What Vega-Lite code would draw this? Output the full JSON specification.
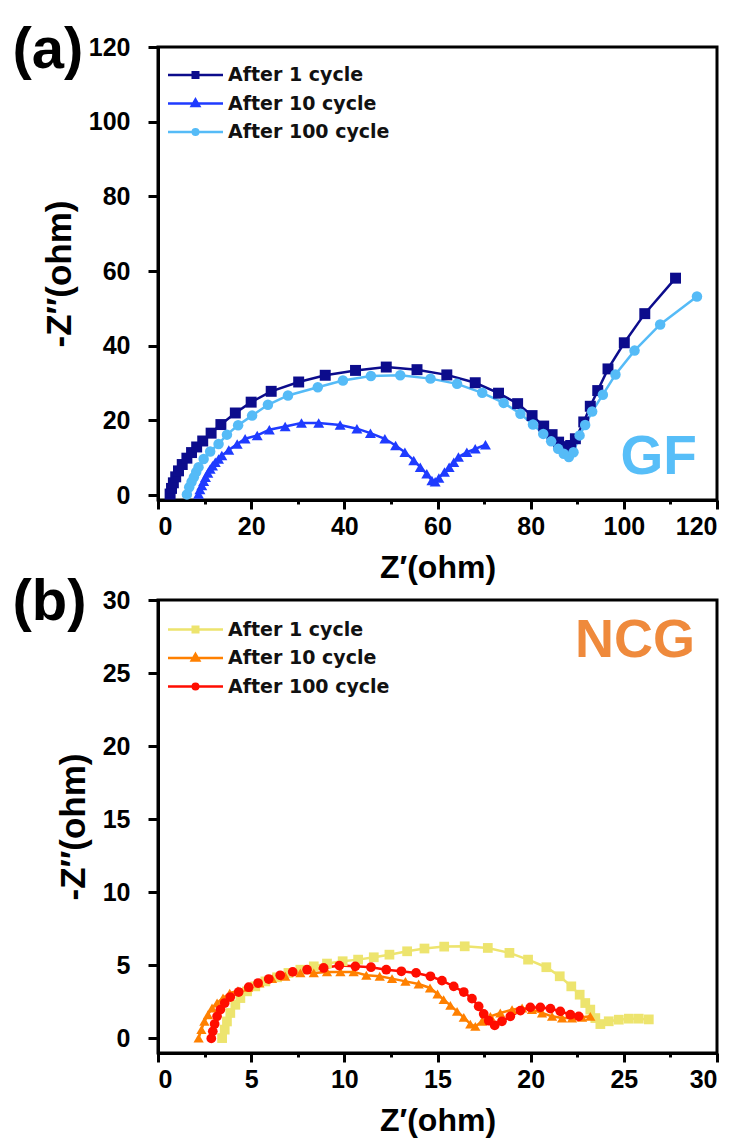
{
  "$schema": "https://vega.github.io/schema/vega-lite/v6.json",
  "background": "white",
  "padding": {"left": 10, "top": 20, "right": 0, "bottom": 0},
  "spacing": -13,
  "datasets": {
    "gf": [
      {"s": "After 1 cycle", "n": 1, "x": 2.6, "y": 0.3},
      {"s": "After 1 cycle", "n": 2, "x": 2.9, "y": 1.8},
      {"s": "After 1 cycle", "n": 3, "x": 3.3, "y": 3.3},
      {"s": "After 1 cycle", "n": 4, "x": 3.8, "y": 4.9},
      {"s": "After 1 cycle", "n": 5, "x": 4.4, "y": 6.5},
      {"s": "After 1 cycle", "n": 6, "x": 5.2, "y": 8.2},
      {"s": "After 1 cycle", "n": 7, "x": 6.2, "y": 9.9},
      {"s": "After 1 cycle", "n": 8, "x": 7.2, "y": 11.4},
      {"s": "After 1 cycle", "n": 9, "x": 8.3, "y": 12.9},
      {"s": "After 1 cycle", "n": 10, "x": 9.6, "y": 14.5},
      {"s": "After 1 cycle", "n": 11, "x": 11.4, "y": 16.6},
      {"s": "After 1 cycle", "n": 12, "x": 13.5, "y": 18.9},
      {"s": "After 1 cycle", "n": 13, "x": 16.6, "y": 22.0},
      {"s": "After 1 cycle", "n": 14, "x": 20.0, "y": 24.9},
      {"s": "After 1 cycle", "n": 15, "x": 24.3, "y": 27.8},
      {"s": "After 1 cycle", "n": 16, "x": 30.2, "y": 30.3},
      {"s": "After 1 cycle", "n": 17, "x": 35.9, "y": 32.1},
      {"s": "After 1 cycle", "n": 18, "x": 42.4, "y": 33.4},
      {"s": "After 1 cycle", "n": 19, "x": 49.0, "y": 34.3},
      {"s": "After 1 cycle", "n": 20, "x": 55.6, "y": 33.6},
      {"s": "After 1 cycle", "n": 21, "x": 62.0, "y": 32.2},
      {"s": "After 1 cycle", "n": 22, "x": 68.1, "y": 30.1},
      {"s": "After 1 cycle", "n": 23, "x": 73.1, "y": 27.3},
      {"s": "After 1 cycle", "n": 24, "x": 77.2, "y": 24.5},
      {"s": "After 1 cycle", "n": 25, "x": 80.3, "y": 21.3},
      {"s": "After 1 cycle", "n": 26, "x": 82.8, "y": 18.5},
      {"s": "After 1 cycle", "n": 27, "x": 84.6, "y": 16.2},
      {"s": "After 1 cycle", "n": 28, "x": 86.0, "y": 14.2},
      {"s": "After 1 cycle", "n": 29, "x": 87.0, "y": 13.0},
      {"s": "After 1 cycle", "n": 30, "x": 87.8, "y": 12.0},
      {"s": "After 1 cycle", "n": 31, "x": 88.6, "y": 13.3},
      {"s": "After 1 cycle", "n": 32, "x": 89.6, "y": 15.1},
      {"s": "After 1 cycle", "n": 33, "x": 91.4, "y": 19.6},
      {"s": "After 1 cycle", "n": 34, "x": 92.8, "y": 23.8},
      {"s": "After 1 cycle", "n": 35, "x": 94.4, "y": 28.0},
      {"s": "After 1 cycle", "n": 36, "x": 96.6, "y": 33.8},
      {"s": "After 1 cycle", "n": 37, "x": 100.1, "y": 40.8},
      {"s": "After 1 cycle", "n": 38, "x": 104.5, "y": 48.6},
      {"s": "After 1 cycle", "n": 39, "x": 111.1, "y": 58.1},
      {"s": "After 10 cycle", "n": 1, "x": 8.7, "y": 0.3},
      {"s": "After 10 cycle", "n": 2, "x": 9.0, "y": 1.5},
      {"s": "After 10 cycle", "n": 3, "x": 9.4, "y": 2.6},
      {"s": "After 10 cycle", "n": 4, "x": 9.8, "y": 3.7},
      {"s": "After 10 cycle", "n": 5, "x": 10.2, "y": 4.8},
      {"s": "After 10 cycle", "n": 6, "x": 10.7, "y": 5.9},
      {"s": "After 10 cycle", "n": 7, "x": 11.2, "y": 7.0},
      {"s": "After 10 cycle", "n": 8, "x": 11.7, "y": 7.9},
      {"s": "After 10 cycle", "n": 9, "x": 12.3, "y": 8.8},
      {"s": "After 10 cycle", "n": 10, "x": 13.0, "y": 9.7},
      {"s": "After 10 cycle", "n": 11, "x": 13.7, "y": 10.6},
      {"s": "After 10 cycle", "n": 12, "x": 15.2, "y": 12.1},
      {"s": "After 10 cycle", "n": 13, "x": 17.0, "y": 13.7},
      {"s": "After 10 cycle", "n": 14, "x": 18.7, "y": 15.1},
      {"s": "After 10 cycle", "n": 15, "x": 21.3, "y": 16.0},
      {"s": "After 10 cycle", "n": 16, "x": 23.9, "y": 17.5},
      {"s": "After 10 cycle", "n": 17, "x": 27.3, "y": 18.4},
      {"s": "After 10 cycle", "n": 18, "x": 30.8, "y": 19.3},
      {"s": "After 10 cycle", "n": 19, "x": 34.5, "y": 19.3},
      {"s": "After 10 cycle", "n": 20, "x": 39.1, "y": 18.8},
      {"s": "After 10 cycle", "n": 21, "x": 42.7, "y": 17.8},
      {"s": "After 10 cycle", "n": 22, "x": 45.6, "y": 16.6},
      {"s": "After 10 cycle", "n": 23, "x": 48.7, "y": 15.1},
      {"s": "After 10 cycle", "n": 24, "x": 51.0, "y": 13.3},
      {"s": "After 10 cycle", "n": 25, "x": 53.0, "y": 11.5},
      {"s": "After 10 cycle", "n": 26, "x": 54.9, "y": 9.3},
      {"s": "After 10 cycle", "n": 27, "x": 56.3, "y": 7.5},
      {"s": "After 10 cycle", "n": 28, "x": 57.7, "y": 5.7},
      {"s": "After 10 cycle", "n": 29, "x": 58.8, "y": 3.9},
      {"s": "After 10 cycle", "n": 30, "x": 59.5, "y": 3.6},
      {"s": "After 10 cycle", "n": 31, "x": 60.3, "y": 4.6},
      {"s": "After 10 cycle", "n": 32, "x": 61.5, "y": 6.2},
      {"s": "After 10 cycle", "n": 33, "x": 62.5, "y": 7.5},
      {"s": "After 10 cycle", "n": 34, "x": 63.5, "y": 8.8},
      {"s": "After 10 cycle", "n": 35, "x": 64.5, "y": 10.2},
      {"s": "After 10 cycle", "n": 36, "x": 66.3, "y": 11.5},
      {"s": "After 10 cycle", "n": 37, "x": 68.1, "y": 12.4},
      {"s": "After 10 cycle", "n": 38, "x": 70.3, "y": 13.5},
      {"s": "After 100 cycle", "n": 1, "x": 6.2, "y": 0.2},
      {"s": "After 100 cycle", "n": 2, "x": 6.7, "y": 2.1},
      {"s": "After 100 cycle", "n": 3, "x": 7.2, "y": 3.5},
      {"s": "After 100 cycle", "n": 4, "x": 7.7, "y": 4.8},
      {"s": "After 100 cycle", "n": 5, "x": 8.2, "y": 6.2},
      {"s": "After 100 cycle", "n": 6, "x": 8.7, "y": 7.5},
      {"s": "After 100 cycle", "n": 7, "x": 9.8, "y": 9.7},
      {"s": "After 100 cycle", "n": 8, "x": 11.2, "y": 11.7},
      {"s": "After 100 cycle", "n": 9, "x": 13.0, "y": 13.7},
      {"s": "After 100 cycle", "n": 10, "x": 14.8, "y": 16.2},
      {"s": "After 100 cycle", "n": 11, "x": 17.2, "y": 18.7},
      {"s": "After 100 cycle", "n": 12, "x": 20.2, "y": 21.3},
      {"s": "After 100 cycle", "n": 13, "x": 23.6, "y": 24.2},
      {"s": "After 100 cycle", "n": 14, "x": 27.9, "y": 26.7},
      {"s": "After 100 cycle", "n": 15, "x": 34.3, "y": 28.9},
      {"s": "After 100 cycle", "n": 16, "x": 39.7, "y": 30.7},
      {"s": "After 100 cycle", "n": 17, "x": 45.7, "y": 31.9},
      {"s": "After 100 cycle", "n": 18, "x": 52.0, "y": 32.1},
      {"s": "After 100 cycle", "n": 19, "x": 58.5, "y": 31.2},
      {"s": "After 100 cycle", "n": 20, "x": 64.2, "y": 29.8},
      {"s": "After 100 cycle", "n": 21, "x": 69.6, "y": 27.4},
      {"s": "After 100 cycle", "n": 22, "x": 74.2, "y": 24.7},
      {"s": "After 100 cycle", "n": 23, "x": 77.8, "y": 21.8},
      {"s": "After 100 cycle", "n": 24, "x": 80.5, "y": 18.9},
      {"s": "After 100 cycle", "n": 25, "x": 82.7, "y": 16.4},
      {"s": "After 100 cycle", "n": 26, "x": 84.4, "y": 14.4},
      {"s": "After 100 cycle", "n": 27, "x": 85.9, "y": 12.4},
      {"s": "After 100 cycle", "n": 28, "x": 87.1, "y": 11.1},
      {"s": "After 100 cycle", "n": 29, "x": 88.2, "y": 10.2},
      {"s": "After 100 cycle", "n": 30, "x": 89.2, "y": 11.5},
      {"s": "After 100 cycle", "n": 31, "x": 90.5, "y": 16.0},
      {"s": "After 100 cycle", "n": 32, "x": 91.7, "y": 18.8},
      {"s": "After 100 cycle", "n": 33, "x": 93.2, "y": 22.4},
      {"s": "After 100 cycle", "n": 34, "x": 95.5, "y": 26.9},
      {"s": "After 100 cycle", "n": 35, "x": 98.2, "y": 32.3},
      {"s": "After 100 cycle", "n": 36, "x": 102.3, "y": 38.7},
      {"s": "After 100 cycle", "n": 37, "x": 107.8, "y": 45.7},
      {"s": "After 100 cycle", "n": 38, "x": 115.7, "y": 53.2}
    ],
    "ncg": [
      {"s": "After 1 cycle", "n": 1, "x": 3.44, "y": 0.02},
      {"s": "After 1 cycle", "n": 2, "x": 3.58, "y": 0.6},
      {"s": "After 1 cycle", "n": 3, "x": 3.70, "y": 1.16},
      {"s": "After 1 cycle", "n": 4, "x": 3.88, "y": 1.74},
      {"s": "After 1 cycle", "n": 5, "x": 4.15, "y": 2.3},
      {"s": "After 1 cycle", "n": 6, "x": 4.42, "y": 2.76},
      {"s": "After 1 cycle", "n": 7, "x": 4.78, "y": 3.22},
      {"s": "After 1 cycle", "n": 8, "x": 5.22, "y": 3.56},
      {"s": "After 1 cycle", "n": 9, "x": 5.76, "y": 3.9},
      {"s": "After 1 cycle", "n": 10, "x": 6.39, "y": 4.18},
      {"s": "After 1 cycle", "n": 11, "x": 7.0, "y": 4.48},
      {"s": "After 1 cycle", "n": 12, "x": 7.64, "y": 4.7},
      {"s": "After 1 cycle", "n": 13, "x": 8.36, "y": 4.93},
      {"s": "After 1 cycle", "n": 14, "x": 9.07, "y": 5.12},
      {"s": "After 1 cycle", "n": 15, "x": 9.91, "y": 5.28},
      {"s": "After 1 cycle", "n": 16, "x": 10.74, "y": 5.39},
      {"s": "After 1 cycle", "n": 17, "x": 11.58, "y": 5.55},
      {"s": "After 1 cycle", "n": 18, "x": 12.42, "y": 5.73},
      {"s": "After 1 cycle", "n": 19, "x": 13.37, "y": 5.96},
      {"s": "After 1 cycle", "n": 20, "x": 14.3, "y": 6.15},
      {"s": "After 1 cycle", "n": 21, "x": 15.36, "y": 6.28},
      {"s": "After 1 cycle", "n": 22, "x": 16.46, "y": 6.3},
      {"s": "After 1 cycle", "n": 23, "x": 17.7, "y": 6.19},
      {"s": "After 1 cycle", "n": 24, "x": 18.86, "y": 5.85},
      {"s": "After 1 cycle", "n": 25, "x": 19.86, "y": 5.39},
      {"s": "After 1 cycle", "n": 26, "x": 20.84, "y": 4.87},
      {"s": "After 1 cycle", "n": 27, "x": 21.56, "y": 4.25},
      {"s": "After 1 cycle", "n": 28, "x": 22.18, "y": 3.56},
      {"s": "After 1 cycle", "n": 29, "x": 22.63, "y": 2.99},
      {"s": "After 1 cycle", "n": 30, "x": 22.93, "y": 2.42},
      {"s": "After 1 cycle", "n": 31, "x": 23.2, "y": 1.97},
      {"s": "After 1 cycle", "n": 32, "x": 23.47, "y": 1.39},
      {"s": "After 1 cycle", "n": 33, "x": 23.74, "y": 0.98},
      {"s": "After 1 cycle", "n": 34, "x": 24.19, "y": 1.17},
      {"s": "After 1 cycle", "n": 35, "x": 24.73, "y": 1.28},
      {"s": "After 1 cycle", "n": 36, "x": 25.27, "y": 1.35},
      {"s": "After 1 cycle", "n": 37, "x": 25.8, "y": 1.35},
      {"s": "After 1 cycle", "n": 38, "x": 26.34, "y": 1.3},
      {"s": "After 10 cycle", "n": 1, "x": 2.18, "y": 0.02},
      {"s": "After 10 cycle", "n": 2, "x": 2.33, "y": 0.6},
      {"s": "After 10 cycle", "n": 3, "x": 2.49, "y": 1.17},
      {"s": "After 10 cycle", "n": 4, "x": 2.68, "y": 1.62},
      {"s": "After 10 cycle", "n": 5, "x": 2.9, "y": 2.08},
      {"s": "After 10 cycle", "n": 6, "x": 3.17, "y": 2.42},
      {"s": "After 10 cycle", "n": 7, "x": 3.49, "y": 2.76},
      {"s": "After 10 cycle", "n": 8, "x": 3.85, "y": 3.1},
      {"s": "After 10 cycle", "n": 9, "x": 4.29, "y": 3.27},
      {"s": "After 10 cycle", "n": 10, "x": 4.83, "y": 3.5},
      {"s": "After 10 cycle", "n": 11, "x": 5.44, "y": 3.79},
      {"s": "After 10 cycle", "n": 12, "x": 6.12, "y": 4.09},
      {"s": "After 10 cycle", "n": 13, "x": 6.83, "y": 4.25},
      {"s": "After 10 cycle", "n": 14, "x": 7.64, "y": 4.48},
      {"s": "After 10 cycle", "n": 15, "x": 8.36, "y": 4.48},
      {"s": "After 10 cycle", "n": 16, "x": 9.07, "y": 4.55},
      {"s": "After 10 cycle", "n": 17, "x": 9.79, "y": 4.55},
      {"s": "After 10 cycle", "n": 18, "x": 10.5, "y": 4.55},
      {"s": "After 10 cycle", "n": 19, "x": 11.18, "y": 4.32},
      {"s": "After 10 cycle", "n": 20, "x": 11.9, "y": 4.25},
      {"s": "After 10 cycle", "n": 21, "x": 12.56, "y": 4.09},
      {"s": "After 10 cycle", "n": 22, "x": 13.28, "y": 3.9},
      {"s": "After 10 cycle", "n": 23, "x": 13.99, "y": 3.72},
      {"s": "After 10 cycle", "n": 24, "x": 14.6, "y": 3.45},
      {"s": "After 10 cycle", "n": 25, "x": 15.0, "y": 3.04},
      {"s": "After 10 cycle", "n": 26, "x": 15.33, "y": 2.65},
      {"s": "After 10 cycle", "n": 27, "x": 15.69, "y": 2.26},
      {"s": "After 10 cycle", "n": 28, "x": 16.05, "y": 1.85},
      {"s": "After 10 cycle", "n": 29, "x": 16.41, "y": 1.44},
      {"s": "After 10 cycle", "n": 30, "x": 16.76, "y": 0.98},
      {"s": "After 10 cycle", "n": 31, "x": 17.03, "y": 0.82},
      {"s": "After 10 cycle", "n": 32, "x": 17.39, "y": 1.17},
      {"s": "After 10 cycle", "n": 33, "x": 17.84, "y": 1.51},
      {"s": "After 10 cycle", "n": 34, "x": 18.37, "y": 1.74},
      {"s": "After 10 cycle", "n": 35, "x": 19.0, "y": 1.97},
      {"s": "After 10 cycle", "n": 36, "x": 19.54, "y": 2.08},
      {"s": "After 10 cycle", "n": 37, "x": 20.07, "y": 1.97},
      {"s": "After 10 cycle", "n": 38, "x": 20.61, "y": 1.74},
      {"s": "After 10 cycle", "n": 39, "x": 21.15, "y": 1.51},
      {"s": "After 10 cycle", "n": 40, "x": 21.69, "y": 1.39},
      {"s": "After 10 cycle", "n": 41, "x": 22.22, "y": 1.39},
      {"s": "After 10 cycle", "n": 42, "x": 22.76, "y": 1.44},
      {"s": "After 10 cycle", "n": 43, "x": 23.2, "y": 1.51},
      {"s": "After 100 cycle", "n": 1, "x": 2.86, "y": 0.0},
      {"s": "After 100 cycle", "n": 2, "x": 2.94, "y": 0.48},
      {"s": "After 100 cycle", "n": 3, "x": 3.04, "y": 0.98},
      {"s": "After 100 cycle", "n": 4, "x": 3.17, "y": 1.51},
      {"s": "After 100 cycle", "n": 5, "x": 3.35, "y": 1.97},
      {"s": "After 100 cycle", "n": 6, "x": 3.58, "y": 2.42},
      {"s": "After 100 cycle", "n": 7, "x": 3.88, "y": 2.83},
      {"s": "After 100 cycle", "n": 8, "x": 4.33, "y": 3.17},
      {"s": "After 100 cycle", "n": 9, "x": 4.87, "y": 3.5},
      {"s": "After 100 cycle", "n": 10, "x": 5.37, "y": 3.79},
      {"s": "After 100 cycle", "n": 11, "x": 5.94, "y": 4.06},
      {"s": "After 100 cycle", "n": 12, "x": 6.56, "y": 4.32},
      {"s": "After 100 cycle", "n": 13, "x": 7.23, "y": 4.55},
      {"s": "After 100 cycle", "n": 14, "x": 8.0, "y": 4.7},
      {"s": "After 100 cycle", "n": 15, "x": 8.89, "y": 4.82},
      {"s": "After 100 cycle", "n": 16, "x": 9.73, "y": 4.98},
      {"s": "After 100 cycle", "n": 17, "x": 10.59, "y": 4.93},
      {"s": "After 100 cycle", "n": 18, "x": 11.43, "y": 4.87},
      {"s": "After 100 cycle", "n": 19, "x": 12.25, "y": 4.7},
      {"s": "After 100 cycle", "n": 20, "x": 13.06, "y": 4.59},
      {"s": "After 100 cycle", "n": 21, "x": 13.85, "y": 4.48},
      {"s": "After 100 cycle", "n": 22, "x": 14.62, "y": 4.25},
      {"s": "After 100 cycle", "n": 23, "x": 15.24, "y": 3.95},
      {"s": "After 100 cycle", "n": 24, "x": 15.87, "y": 3.56},
      {"s": "After 100 cycle", "n": 25, "x": 16.41, "y": 3.17},
      {"s": "After 100 cycle", "n": 26, "x": 16.85, "y": 2.72},
      {"s": "After 100 cycle", "n": 27, "x": 17.21, "y": 2.19},
      {"s": "After 100 cycle", "n": 28, "x": 17.48, "y": 1.67},
      {"s": "After 100 cycle", "n": 29, "x": 17.75, "y": 1.21},
      {"s": "After 100 cycle", "n": 30, "x": 18.07, "y": 0.89},
      {"s": "After 100 cycle", "n": 31, "x": 18.46, "y": 1.17},
      {"s": "After 100 cycle", "n": 32, "x": 18.91, "y": 1.51},
      {"s": "After 100 cycle", "n": 33, "x": 19.45, "y": 1.9},
      {"s": "After 100 cycle", "n": 34, "x": 19.98, "y": 2.12},
      {"s": "After 100 cycle", "n": 35, "x": 20.52, "y": 2.12},
      {"s": "After 100 cycle", "n": 36, "x": 21.06, "y": 2.04},
      {"s": "After 100 cycle", "n": 37, "x": 21.59, "y": 1.85},
      {"s": "After 100 cycle", "n": 38, "x": 22.13, "y": 1.62},
      {"s": "After 100 cycle", "n": 39, "x": 22.58, "y": 1.51}
    ]
  },
  "vconcat": [
    {
      "width": 559,
      "height": 453,
      "data": {"name": "gf"},
      "layer": [
        {
          "mark": {"type": "line", "strokeWidth": 2.5},
          "encoding": {
            "x": {"field": "x", "type": "quantitative", "scale": {"domain": [0, 120], "nice": false, "zero": false},
              "axis": {"title": "Z′(ohm)", "titlePadding": 13, "values": [0, 10, 20, 30, 40, 50, 60, 70, 80, 90, 100, 110, 120],
                "labelExpr": "datum.value % 20 === 0 ? '' + datum.value : ''",
                "tickSize": {"condition": {"test": "datum.value % 20 === 0", "value": 9}, "value": 4}}},
            "y": {"field": "y", "type": "quantitative", "scale": {"domain": [-1.3, 120], "nice": false, "zero": false},
              "axis": {"title": "-Z′′(ohm)", "titleFontSize": 35, "titlePadding": 11, "labelPadding": 18, "values": [0, 10, 20, 30, 40, 50, 60, 70, 80, 90, 100, 110, 120],
                "labelExpr": "datum.value % 20 === 0 ? '' + datum.value : ''",
                "tickSize": {"condition": {"test": "datum.value % 20 === 0", "value": 10}, "value": 4}}},
            "color": {"field": "s", "type": "nominal",
              "scale": {"domain": ["After 1 cycle", "After 10 cycle", "After 100 cycle"], "range": ["#0c0c8c", "#1f3bff", "#55bbf7"]}},
            "order": {"field": "n", "type": "quantitative"}
          }
        },
        {
          "transform": [{"filter": "datum.s === 'After 1 cycle'"}],
          "mark": {"type": "point", "filled": true, "shape": "square", "size": 120, "opacity": 1},
          "encoding": {"x": {"field": "x", "type": "quantitative"}, "y": {"field": "y", "type": "quantitative"}, "color": {"field": "s", "type": "nominal"}}
        },
        {
          "transform": [{"filter": "datum.s === 'After 10 cycle'"}],
          "mark": {"type": "point", "filled": true, "shape": "triangle-up", "size": 120, "opacity": 1},
          "encoding": {"x": {"field": "x", "type": "quantitative"}, "y": {"field": "y", "type": "quantitative"}, "color": {"field": "s", "type": "nominal"}}
        },
        {
          "transform": [{"filter": "datum.s === 'After 100 cycle'"}],
          "mark": {"type": "point", "filled": true, "shape": "circle", "size": 110, "opacity": 1},
          "encoding": {"x": {"field": "x", "type": "quantitative"}, "y": {"field": "y", "type": "quantitative"}, "color": {"field": "s", "type": "nominal"}}
        },
        {
          "mark": {"type": "point", "filled": true, "opacity": 0, "strokeWidth": 2.5},
          "encoding": {
            "x": {"field": "x", "type": "quantitative"},
            "y": {"field": "y", "type": "quantitative"},
            "color": {"field": "s", "type": "nominal",
              "legend": {"title": null, "orient": "none", "legendX": 28, "legendY": 18.5, "padding": 0, "rowPadding": 8.5, "labelOffset": 23, "labelLimit": 400,
                "symbolSize": 100, "symbolStrokeWidth": 2.5, "symbolOpacity": 1,
                "labelFont": "DejaVu Sans", "labelFontSize": 19, "labelFontWeight": "bold", "labelColor": "#111111"}},
            "stroke": {"field": "s", "type": "nominal",
              "scale": {"domain": ["After 1 cycle", "After 10 cycle", "After 100 cycle"], "range": ["#0c0c8c", "#1f3bff", "#55bbf7"]},
              "legend": {"title": null, "orient": "none", "legendX": 28, "legendY": 18.5, "padding": 0, "rowPadding": 8.5, "labelOffset": 23, "labelLimit": 400,
                "symbolSize": 100, "symbolStrokeWidth": 2.5, "symbolOpacity": 1,
                "labelFont": "DejaVu Sans", "labelFontSize": 19, "labelFontWeight": "bold", "labelColor": "#111111"}},
            "shape": {"field": "s", "type": "nominal",
              "scale": {"domain": ["After 1 cycle", "After 10 cycle", "After 100 cycle"],
                "range": ["M-5.5,0H5.5M-0.55,-0.55H0.55V0.55H-0.55Z", "M-5.5,0H5.5M0,-0.8L0.75,0.5H-0.75Z", "M-5.5,0H5.5M0.55,0A0.55,0.55,0,1,1,-0.55,0A0.55,0.55,0,1,1,0.55,0Z"]},
              "legend": {"title": null, "orient": "none", "legendX": 28, "legendY": 18.5, "padding": 0, "rowPadding": 8.5, "labelOffset": 23, "labelLimit": 400,
                "symbolSize": 100, "symbolStrokeWidth": 2.5, "symbolOpacity": 1,
                "labelFont": "DejaVu Sans", "labelFontSize": 19, "labelFontWeight": "bold", "labelColor": "#111111"}}
          }
        },
        {
          "data": {"values": [{}]},
          "mark": {"type": "text", "text": "GF", "align": "right", "baseline": "alphabetic", "font": "Liberation Sans", "fontSize": 55, "fontWeight": "bold", "color": "#57bef8"},
          "encoding": {"x": {"datum": 115.7}, "y": {"datum": 5.66}}
        },
        {
          "data": {"values": [{}]},
          "mark": {"type": "text", "text": "(a)", "align": "left", "baseline": "alphabetic", "font": "Liberation Sans", "fontSize": 58, "fontWeight": "bold", "color": "black"},
          "encoding": {"x": {"datum": -31.24}, "y": {"datum": 114.38}}
        }
      ]
    },
    {
      "width": 559,
      "height": 453,
      "data": {"name": "ncg"},
      "layer": [
        {
          "mark": {"type": "line", "strokeWidth": 2.5},
          "encoding": {
            "x": {"field": "x", "type": "quantitative", "scale": {"domain": [0, 30], "nice": false, "zero": false},
              "axis": {"title": "Z′(ohm)", "titlePadding": 13, "values": [0, 2.5, 5, 7.5, 10, 12.5, 15, 17.5, 20, 22.5, 25, 27.5, 30],
                "labelExpr": "datum.value % 5 === 0 ? '' + datum.value : ''",
                "tickSize": {"condition": {"test": "datum.value % 5 === 0", "value": 9}, "value": 4}}},
            "y": {"field": "y", "type": "quantitative", "scale": {"domain": [-1, 30], "nice": false, "zero": false},
              "axis": {"title": "-Z′′(ohm)", "titleFontSize": 35, "titlePadding": 11, "labelPadding": 18, "values": [0, 2.5, 5, 7.5, 10, 12.5, 15, 17.5, 20, 22.5, 25, 27.5, 30],
                "labelExpr": "datum.value % 5 === 0 ? '' + datum.value : ''",
                "tickSize": {"condition": {"test": "datum.value % 5 === 0", "value": 10}, "value": 4}}},
            "color": {"field": "s", "type": "nominal",
              "scale": {"domain": ["After 1 cycle", "After 10 cycle", "After 100 cycle"], "range": ["#ede46e", "#ff8000", "#ff0d00"]}},
            "order": {"field": "n", "type": "quantitative"}
          }
        },
        {
          "transform": [{"filter": "datum.s === 'After 1 cycle'"}],
          "mark": {"type": "point", "filled": true, "shape": "square", "size": 95, "opacity": 1},
          "encoding": {"x": {"field": "x", "type": "quantitative"}, "y": {"field": "y", "type": "quantitative"}, "color": {"field": "s", "type": "nominal"}}
        },
        {
          "transform": [{"filter": "datum.s === 'After 10 cycle'"}],
          "mark": {"type": "point", "filled": true, "shape": "triangle-up", "size": 105, "opacity": 1},
          "encoding": {"x": {"field": "x", "type": "quantitative"}, "y": {"field": "y", "type": "quantitative"}, "color": {"field": "s", "type": "nominal"}}
        },
        {
          "transform": [{"filter": "datum.s === 'After 100 cycle'"}],
          "mark": {"type": "point", "filled": true, "shape": "circle", "size": 95, "opacity": 1},
          "encoding": {"x": {"field": "x", "type": "quantitative"}, "y": {"field": "y", "type": "quantitative"}, "color": {"field": "s", "type": "nominal"}}
        },
        {
          "mark": {"type": "point", "filled": true, "opacity": 0, "strokeWidth": 2.5},
          "encoding": {
            "x": {"field": "x", "type": "quantitative"},
            "y": {"field": "y", "type": "quantitative"},
            "color": {"field": "s", "type": "nominal",
              "legend": {"title": null, "orient": "none", "legendX": 28, "legendY": 20, "padding": 0, "rowPadding": 8.5, "labelOffset": 23, "labelLimit": 400,
                "symbolSize": 100, "symbolStrokeWidth": 2.5, "symbolOpacity": 1,
                "labelFont": "DejaVu Sans", "labelFontSize": 19, "labelFontWeight": "bold", "labelColor": "#111111"}},
            "stroke": {"field": "s", "type": "nominal",
              "scale": {"domain": ["After 1 cycle", "After 10 cycle", "After 100 cycle"], "range": ["#ede46e", "#ff8000", "#ff0d00"]},
              "legend": {"title": null, "orient": "none", "legendX": 28, "legendY": 20, "padding": 0, "rowPadding": 8.5, "labelOffset": 23, "labelLimit": 400,
                "symbolSize": 100, "symbolStrokeWidth": 2.5, "symbolOpacity": 1,
                "labelFont": "DejaVu Sans", "labelFontSize": 19, "labelFontWeight": "bold", "labelColor": "#111111"}},
            "shape": {"field": "s", "type": "nominal",
              "scale": {"domain": ["After 1 cycle", "After 10 cycle", "After 100 cycle"],
                "range": ["M-5.5,0H5.5M-0.55,-0.55H0.55V0.55H-0.55Z", "M-5.5,0H5.5M0,-0.8L0.75,0.5H-0.75Z", "M-5.5,0H5.5M0.55,0A0.55,0.55,0,1,1,-0.55,0A0.55,0.55,0,1,1,0.55,0Z"]},
              "legend": {"title": null, "orient": "none", "legendX": 28, "legendY": 20, "padding": 0, "rowPadding": 8.5, "labelOffset": 23, "labelLimit": 400,
                "symbolSize": 100, "symbolStrokeWidth": 2.5, "symbolOpacity": 1,
                "labelFont": "DejaVu Sans", "labelFontSize": 19, "labelFontWeight": "bold", "labelColor": "#111111"}}
          }
        },
        {
          "data": {"values": [{}]},
          "mark": {"type": "text", "text": "NCG", "align": "right", "baseline": "alphabetic", "font": "Liberation Sans", "fontSize": 54, "fontWeight": "bold", "color": "#ef8a3c"},
          "encoding": {"x": {"datum": 28.82}, "y": {"datum": 26.1}}
        },
        {
          "data": {"values": [{}]},
          "mark": {"type": "text", "text": "(b)", "align": "left", "baseline": "alphabetic", "font": "Liberation Sans", "fontSize": 58, "fontWeight": "bold", "color": "black"},
          "encoding": {"x": {"datum": -7.81}, "y": {"datum": 28.63}}
        }
      ]
    }
  ],
  "resolve": {"scale": {"x": "independent", "y": "independent", "color": "independent", "stroke": "independent", "shape": "independent"}, "legend": {"color": "independent", "stroke": "independent", "shape": "independent"}},
  "config": {
    "view": {"stroke": "black", "strokeWidth": 3},
    "axis": {"grid": false, "domainColor": "black", "domainWidth": 3, "tickColor": "black", "tickWidth": 3,
      "labelFont": "Liberation Sans", "labelFontSize": 25, "labelFontWeight": "bold", "labelColor": "black", "labelPadding": 5,
      "titleFont": "Liberation Sans", "titleFontSize": 32, "titleFontWeight": "bold", "titleColor": "black", "titlePadding": 8}
  }
}
